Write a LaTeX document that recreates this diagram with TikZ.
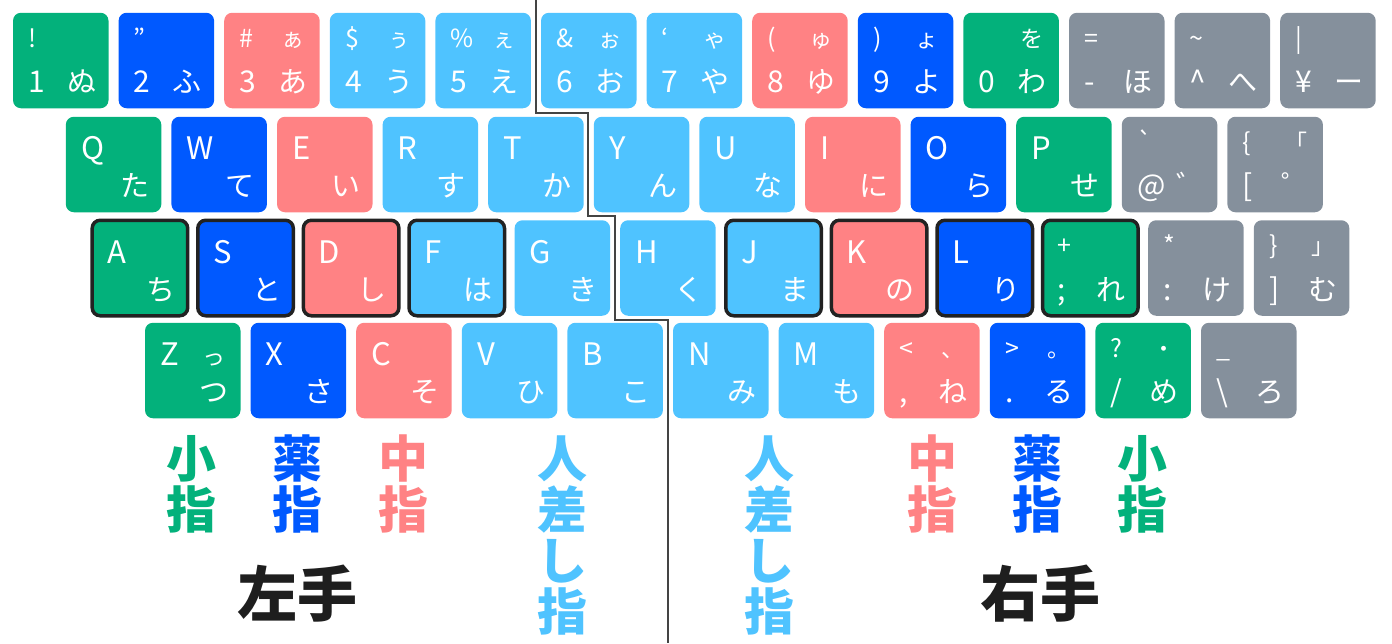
\documentclass[tikz,border=0pt]{standalone}
\usepackage{fontspec}
\setmainfont{Noto Sans CJK JP}
\usepackage{tikz}
\usetikzlibrary{calc}
\definecolor{fingergreen}{HTML}{03B17B}
\definecolor{fingerblue}{HTML}{0059FF}
\definecolor{fingerred}{HTML}{FF8284}
\definecolor{fingersky}{HTML}{4FC3FF}
\definecolor{keygray}{HTML}{85909C}
\definecolor{homeborder}{HTML}{222222}
\definecolor{splitgray}{HTML}{444444}
\definecolor{handblack}{HTML}{1E1E1E}
\tikzset{
  keycap/.style = {rectangle, rounded corners=8pt, minimum width=95.5pt,
                   minimum height=95.5pt, inner sep=0pt, outer sep=0pt},
  home/.style   = {draw=homeborder, line width=3.5pt},
  kgreen/.style = {keycap, fill=fingergreen},
  kblue/.style  = {keycap, fill=fingerblue},
  kred/.style   = {keycap, fill=fingerred},
  ksky/.style   = {keycap, fill=fingersky},
  kgray/.style  = {keycap, fill=keygray},
  hgreen/.style = {kgreen, home},
  hblue/.style  = {kblue, home},
  hred/.style   = {kred, home},
  hsky/.style   = {ksky, home},
  glyph big/.style   = {text=white, inner sep=0pt, anchor=base west,
                        font=\fontsize{30}{30}\selectfont},
  glyph letter/.style = {glyph big, font=\fontsize{31}{31}\selectfont},
  glyph small/.style = {text=white, inner sep=0pt, anchor=base west,
                        font=\fontsize{25}{25}\selectfont},
  kana big/.style    = {text=white, inner sep=0pt, anchor=base,
                        font=\fontsize{29}{29}\selectfont},
  kana small/.style  = {text=white, inner sep=0pt, anchor=base,
                        font=\fontsize{23}{23}\selectfont},
  finger/.style = {font=\bfseries\fontsize{50}{51}\selectfont, align=center,
                   inner sep=0pt},
  hand/.style   = {font=\bfseries\fontsize{60}{60}\selectfont, text=handblack,
                   inner sep=0pt},
  split/.style  = {splitgray, line width=2pt},
}

\begin{document}
\begin{tikzpicture}[x=1pt, y=-1pt]
\useasboundingbox (0,0) rectangle (1392,643);

% =====================================================================
% ROW 1 — number row
% =====================================================================
\foreach \i/\st/\tl/\tr/\bl/\br in {
    0/kgreen/!//1/ぬ, 1/kblue/”//2/ふ, 2/kred/\#/ぁ/3/あ,
    3/ksky/\$/ぅ/4/う, 4/ksky/\%/ぇ/5/え, 5/ksky/\&/ぉ/6/お,
    6/ksky/‘/ゃ/7/や, 7/kred/{(}/ゅ/8/ゆ, 8/kblue/{)}/ょ/9/よ,
    9/kgreen//を/0/わ, 10/kgray/=//-/ほ,
    11/kgray/\textasciitilde//\textasciicircum/へ, 12/kgray/|//¥/ー} {
  \node[\st] (ra\i) at (60.75+\i*105.6, 60.5) {};
  \node[glyph small] at ($(ra\i.west)+(15,-13.5)$) {\tl};
  \node[kana small]  at ($(ra\i.center)+(21,-13.5)$) {\tr};
  \node[glyph big]   at ($(ra\i.west)+(15,32)$) {\bl};
  \node[kana big]    at ($(ra\i.center)+(21,32)$) {\br};
}

% =====================================================================
% ROW 2 — QWERTY row
% =====================================================================
\foreach \i/\st/\tl/\br in {
    0/kgreen/Q/た, 1/kblue/W/て, 2/kred/E/い, 3/ksky/R/す, 4/ksky/T/か,
    5/ksky/Y/ん, 6/ksky/U/な, 7/kred/I/に, 8/kblue/O/ら, 9/kgreen/P/せ} {
  \node[\st] (rb\i) at (113.55+\i*105.6, 164.5) {};
  \node[glyph letter] at ($(rb\i.west)+(15,-5)$) {\tl};
  \node[kana big]     at ($(rb\i.center)+(21,32)$) {\br};
}
\foreach \i/\st/\tl/\tr/\bl/\br in {
    10/kgray/\textasciigrave//@/゛, 11/kgray/\{/「/[/゜} {
  \node[\st] (rb\i) at (113.55+\i*105.6, 164.5) {};
  \node[glyph small] at ($(rb\i.west)+(15,-13.5)$) {\tl};
  \node[kana small]  at ($(rb\i.center)+(21,-13.5)$) {\tr};
  \node[glyph big]   at ($(rb\i.west)+(15,32)$) {\bl};
  \node[kana big]    at ($(rb\i.center)+(21,32)$) {\br};
}

% =====================================================================
% ROW 3 — home row (home keys framed)
% =====================================================================
\foreach \i/\st/\tl/\br in {
    0/hgreen/A/ち, 1/hblue/S/と, 2/hred/D/し, 3/hsky/F/は, 4/ksky/G/き,
    5/ksky/H/く, 6/hsky/J/ま, 7/hred/K/の, 8/hblue/L/り} {
  \node[\st] (rc\i) at (139.95+\i*105.6, 268) {};
  \node[glyph letter] at ($(rc\i.west)+(15,-5)$) {\tl};
  \node[kana big]     at ($(rc\i.center)+(21,32)$) {\br};
}
\foreach \i/\st/\tl/\tr/\bl/\br in {
    9/hgreen/+//;/れ, 10/kgray/*//:/け, 11/kgray/\}/」/]/む} {
  \node[\st] (rc\i) at (139.95+\i*105.6, 268) {};
  \node[glyph small] at ($(rc\i.west)+(15,-13.5)$) {\tl};
  \node[kana small]  at ($(rc\i.center)+(21,-13.5)$) {\tr};
  \node[glyph big]   at ($(rc\i.west)+(15,32)$) {\bl};
  \node[kana big]    at ($(rc\i.center)+(21,32)$) {\br};
}

% =====================================================================
% ROW 4 — bottom row
% =====================================================================
\foreach \i/\st/\tl/\tr/\br in {
    0/kgreen/Z/っ/つ, 1/kblue/X//さ, 2/kred/C//そ, 3/ksky/V//ひ,
    4/ksky/B//こ, 5/ksky/N//み, 6/ksky/M//も} {
  \node[\st] (rd\i) at (192.75+\i*105.6, 370.5) {};
  \node[glyph letter] at ($(rd\i.west)+(15,-5)$) {\tl};
  \node[kana small]   at ($(rd\i.center)+(21,-5)$) {\tr};
  \node[kana big]     at ($(rd\i.center)+(21,32)$) {\br};
}
\foreach \i/\st/\tl/\tr/\bl/\br in {
    7/kred/</、/{,}/ね, 8/kblue/>/。/./る, 9/kgreen/?/・/{/}/め,
    10/kgray/\_//\textbackslash/ろ} {
  \node[\st] (rd\i) at (192.75+\i*105.6, 370.5) {};
  \node[glyph small] at ($(rd\i.west)+(15,-13.5)$) {\tl};
  \node[kana small]  at ($(rd\i.center)+(21,-13.5)$) {\tr};
  \node[glyph big]   at ($(rd\i.west)+(15,32)$) {\bl};
  \node[kana big]    at ($(rd\i.center)+(21,32)$) {\br};
}

% Left / right split
\draw[split] (536,0) -- (536,112.5) -- (588,112.5) -- (588,216)
  -- (615,216) -- (615,319.5) -- (668,319.5) -- (668,643);

% =====================================================================
% Finger and hand labels
% =====================================================================
\node[finger, text=fingergreen] (lpinky)  at (191,484)  {小\\指};
\node[finger, text=fingerblue]  (lring)   at (297,484)  {薬\\指};
\node[finger, text=fingerred]   (lmiddle) at (403,484)  {中\\指};
\node[finger, text=fingersky]   (lindex)  at (562,535)  {人\\差\\し\\指};
\node[finger, text=fingersky]   (rindex)  at (769,535)  {人\\差\\し\\指};
\node[finger, text=fingerred]   (rmiddle) at (932,484)  {中\\指};
\node[finger, text=fingerblue]  (rring)   at (1037,484) {薬\\指};
\node[finger, text=fingergreen] (rpinky)  at (1142,484) {小\\指};

\node[hand] (lhand) at (297,594)  {左手};
\node[hand] (rhand) at (1040,594) {右手};

\end{tikzpicture}
\end{document}
